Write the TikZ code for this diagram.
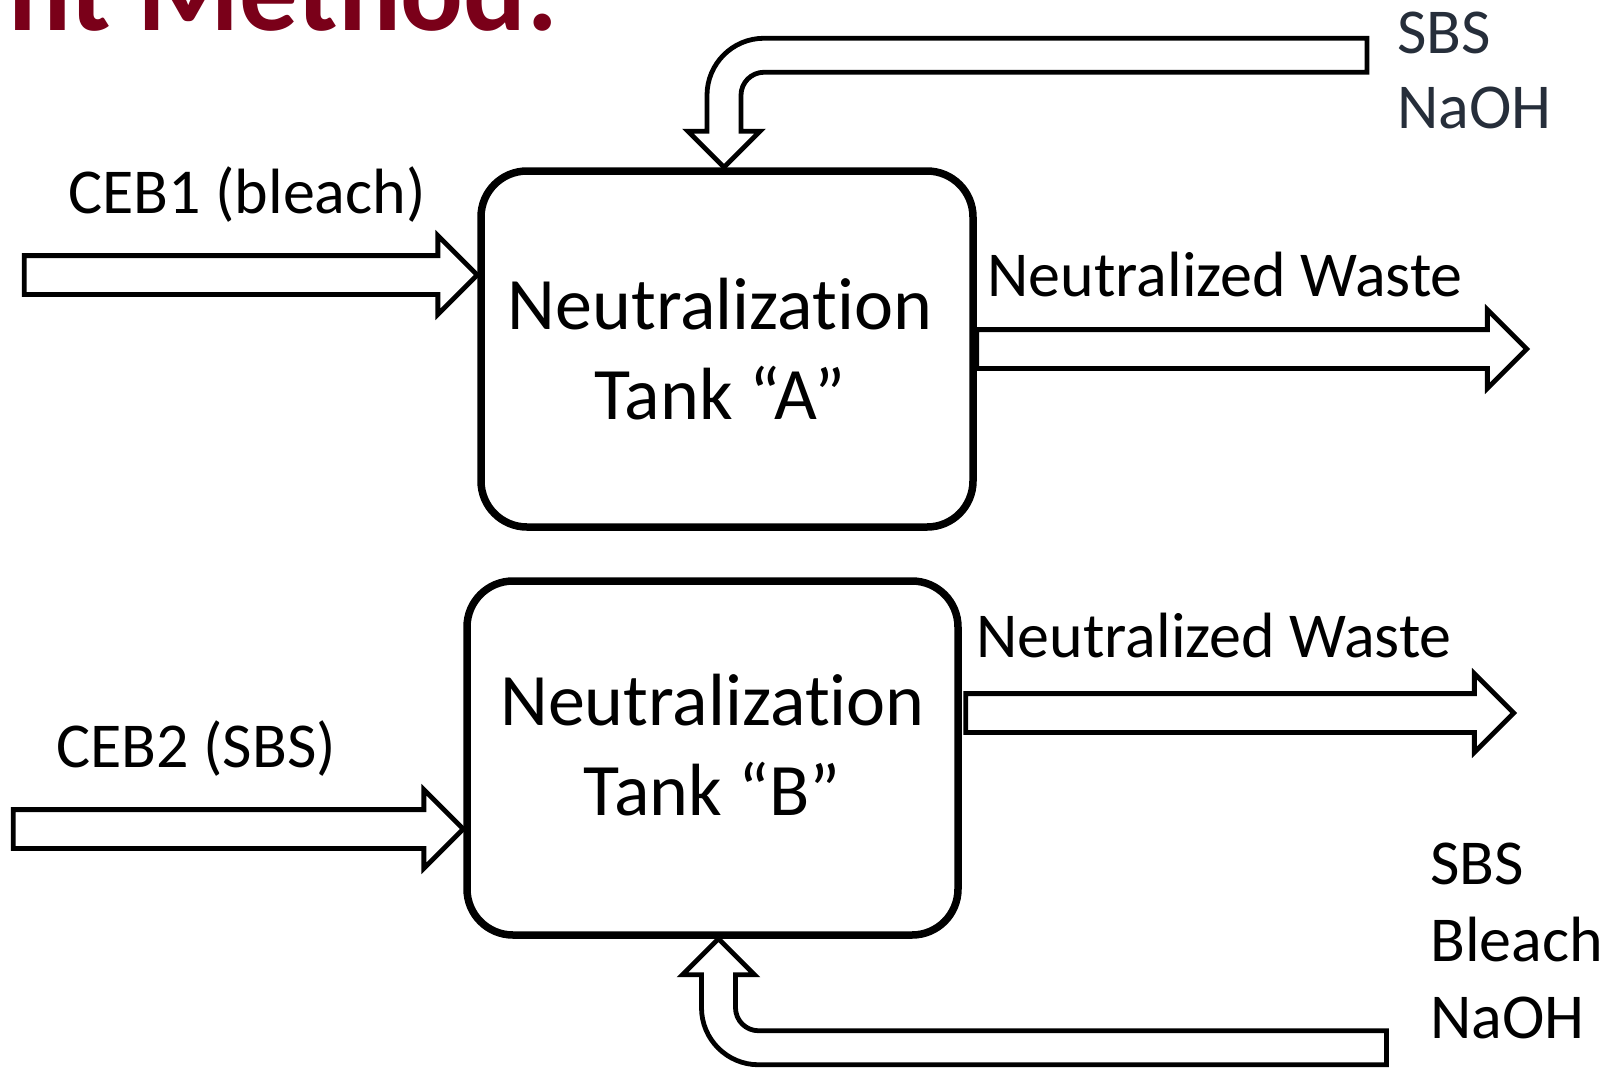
\documentclass[tikz,border=0pt]{standalone}
\usepackage{fontspec}
\setmainfont[Ligatures=NoCommon]{Carlito}
\usetikzlibrary{shapes.arrows}

\definecolor{titlered}{RGB}{122,0,25}
\definecolor{chemgray}{RGB}{38,46,58}

\tikzset{
    tank/.style={draw, line width=3.75pt, rounded corners=23pt},
    tanktext/.style={align=center, inner sep=0pt, font=\fontsize{37}{45}\selectfont},
    flow/.style={single arrow, draw, fill=white, line width=2.4pt, inner xsep=0pt, inner ysep=8.5pt,
        single arrow head extend=10pt, outer sep=0pt},
    bentflow/.style={draw, fill=white, line width=2.4pt, line join=miter},
    lbl/.style={anchor=base west, inner sep=0pt, align=left, font=\fontsize{32}{38}\selectfont},
}

\begin{document}
\begin{tikzpicture}[x=0.5pt, y=-0.5pt]

    \useasboundingbox (0,0) rectangle (1608,1067);

    \node[anchor=base west, inner sep=0pt, text=titlered, font=\bfseries\fontsize{58.5}{70}\selectfont] (title) at (8,30) {nt Method:};

    \node[tank, minimum width=246pt, minimum height=178pt] (tankA) at (727,349) {};
    \node[tank, minimum width=245.5pt, minimum height=177pt] (tankB) at (712.5,758) {};

    \node[tanktext] (textA) at ([xshift=-3.5pt]tankA.center) {Neutralization\\Tank “A”};
    \node[tanktext] (textB) at ([yshift=6.5pt]tankB.center) {Neutralization\\Tank “B”};

    \node[flow, minimum height=226.5pt, anchor=tip] (inA) at ([yshift=37pt]tankA.west) {};
    \node[flow, minimum height=225pt, anchor=tip] (inB) at ([yshift=-35.5pt]tankB.west) {};
    \node[flow, minimum height=275pt, anchor=tail] (outA) at (tankA.east) {};
    \node[flow, minimum height=274pt, anchor=tail] (outB) at ([xshift=2pt, yshift=22.5pt]tankB.east) {};

    \draw[bentflow] ([xshift=-1.5pt]tankA.north)
        -- ++(-36,-36) -- ++(19,0)
        [rounded corners=28.5pt] -- ++(0,-93)
        [sharp corners] -- ++(660,0) -- ++(0,34)
        [rounded corners=11.5pt] -- ++(-626,0)
        [sharp corners] -- ++(0,59) -- ++(19,0) -- cycle;

    \draw[bentflow] ([xshift=3pt]tankB.south)
        -- ++(-36,36) -- ++(19,0)
        [rounded corners=28.5pt] -- ++(0,90)
        [sharp corners] -- ++(685,0) -- ++(0,-34)
        [rounded corners=11.5pt] -- ++(-651,0)
        [sharp corners] -- ++(0,-56) -- ++(19,0) -- cycle;

    \node[lbl] (ceb1) at (68,213) {CEB1 (bleach)};
    \node[lbl] (ceb2) at (56,767) {CEB2 (SBS)};
    \node[lbl] (wasteA) at (987,296) {Neutralized Waste};
    \node[lbl] (wasteB) at (976,657) {Neutralized Waste};
    \node[lbl, text=chemgray, font=\fontsize{32}{37.5}\selectfont] (chemA) at (1397,128) {SBS\\NaOH};
    \node[lbl, font=\fontsize{32}{38.5}\selectfont] (chemB) at (1430,1038) {SBS\\Bleach\\NaOH};

\end{tikzpicture}
\end{document}
